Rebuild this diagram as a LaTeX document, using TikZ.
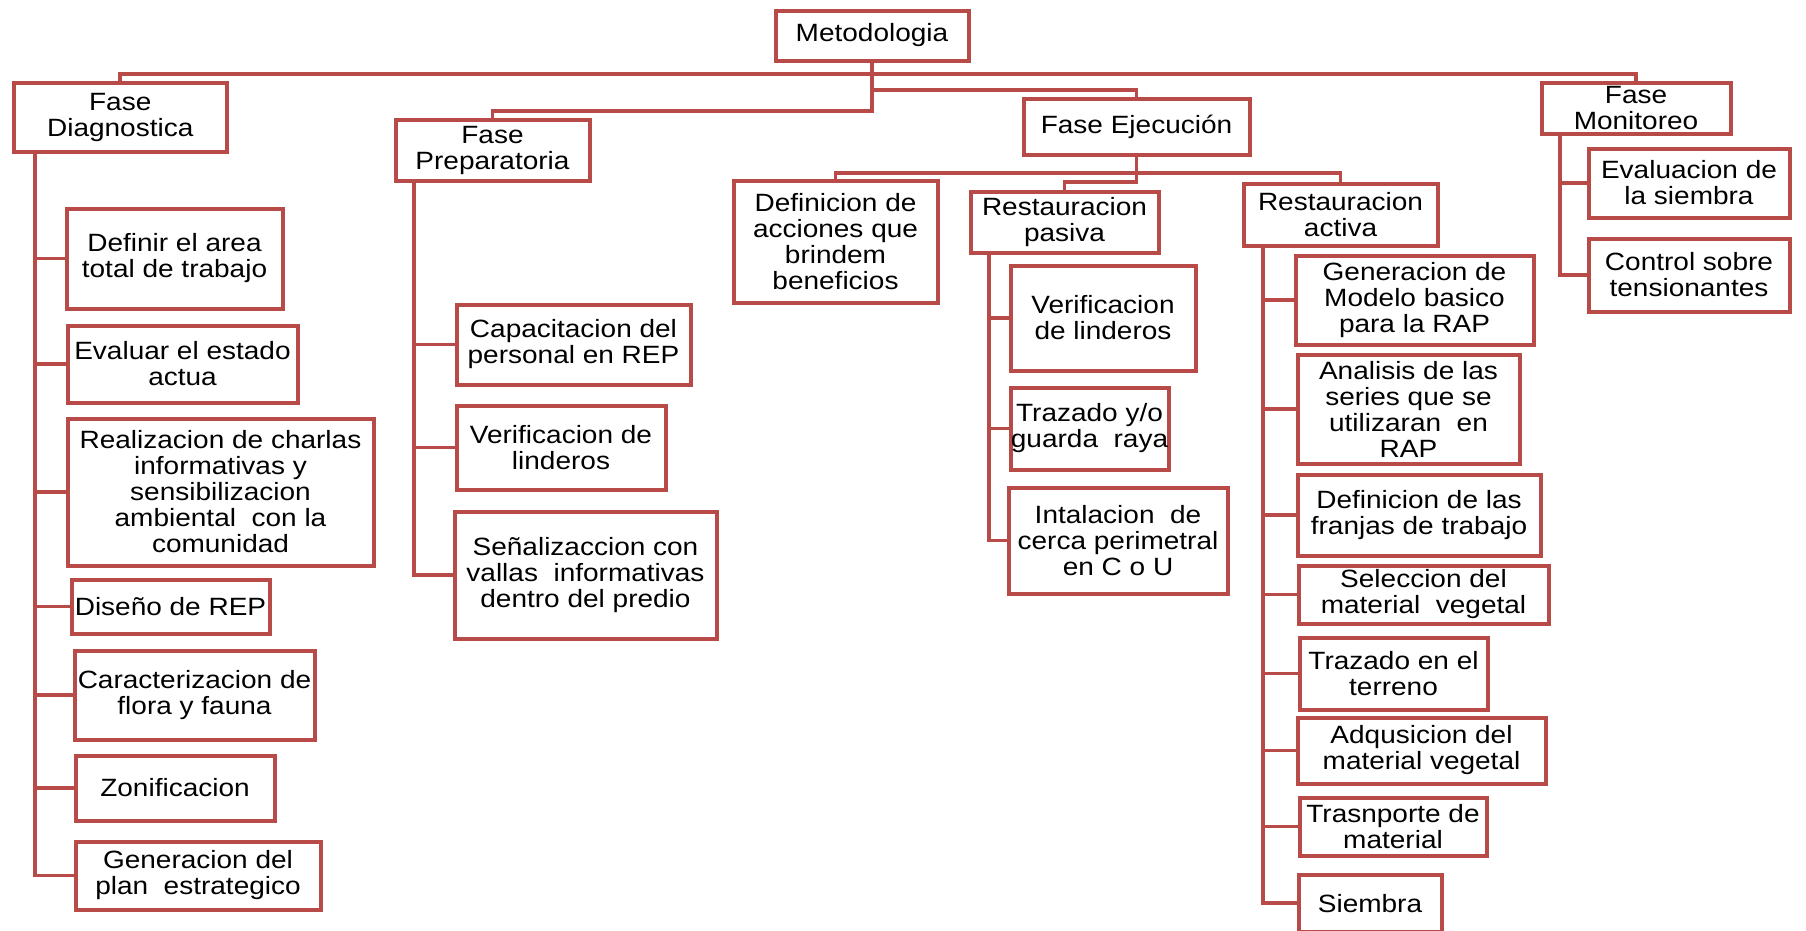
\documentclass[tikz,border=0pt]{standalone}
\usepackage{fontspec}
\setmainfont[FakeStretch=1.12]{Liberation Sans}
\usetikzlibrary{calc}
\definecolor{rim}{RGB}{184,74,72}
% box from its corners (x1,y1) to (x2,y2): name, x1, y1, x2, y2, text
\newcommand\mkbox[6]{\node[box, minimum width={#4-#2}, minimum height={#5-#3}] (#1) at ({(#2+#4)/2},{(#3+#5)/2}) {#6};}
\begin{document}
\begin{tikzpicture}[x=1pt, y=-1pt,
  box/.style={draw=rim, line width=4pt, fill=white, inner sep=0pt, outer sep=0pt,
    align=center, text=black, font=\fontsize{25}{26}\selectfont},
  conn/.style={draw=rim, line width=3.8pt}]
\fill[white] (0,0) rectangle (1806,930);
\useasboundingbox (0,0) rectangle (1806,930);

% top level
\mkbox{met}{775.5}{10.5}{968.5}{60.5}{Metodologia}
\mkbox{diag}{14}{82.5}{226.5}{151.5}{Fase\\Diagnostica}
\mkbox{prep}{395.5}{119.5}{589.5}{180.5}{Fase\\Preparatoria}
\mkbox{ejec}{1023.5}{98.5}{1249.5}{154.5}{Fase Ejecución}
\mkbox{moni}{1541.5}{82.5}{1730.5}{133.5}{Fase\\Monitoreo}

% Fase Diagnostica
\mkbox{d1}{66.5}{208.5}{282.5}{308.5}{Definir el area\\total de trabajo}
\mkbox{d2}{67.5}{325.5}{297.5}{402.5}{Evaluar el estado\\actua}
\mkbox{d3}{67.5}{418.5}{373.5}{565.5}{Realizacion de charlas\\informativas y\\sensibilizacion\\ambiental\ \ con la\\comunidad}
\mkbox{d4}{71.5}{579.5}{269.5}{633.5}{Diseño de REP}
\mkbox{d5}{74.5}{650.5}{314.5}{739.5}{Caracterizacion de\\flora y fauna}
\mkbox{d6}{75.5}{755.5}{274.5}{820.5}{Zonificacion}
\mkbox{d7}{75.5}{841.5}{320.5}{909.5}{Generacion del\\plan\ \ estrategico}

% Fase Preparatoria
\mkbox{p1}{456.5}{304.5}{690.5}{384.5}{Capacitacion del\\personal en REP}
\mkbox{p2}{456.5}{405.5}{665.5}{489.5}{Verificacion de\\linderos}
\mkbox{p3}{454.5}{511.5}{716.5}{638.5}{Señalizaccion con\\vallas\ \ informativas\\dentro del predio}

% Fase Ejecucion
\mkbox{e1}{733.5}{180.5}{937.5}{302.5}{Definicion de\\acciones que\\brindem\\beneficios}
\mkbox{e2}{970.5}{191.5}{1158.5}{252.5}{Restauracion\\pasiva}
\mkbox{e3}{1243.5}{183.5}{1437.5}{245.5}{Restauracion\\activa}

% Restauracion pasiva
\mkbox{s1}{1010.5}{265.5}{1195.5}{370.5}{Verificacion\\de linderos}
\mkbox{s2}{1010.5}{387.5}{1168.5}{469.5}{Trazado y/o\\guarda\ \ raya}
\mkbox{s3}{1008.5}{487.5}{1227.5}{593.5}{Intalacion\ \ de\\cerca perimetral\\en C o U}

% Restauracion activa
\mkbox{a1}{1295.5}{255.5}{1533.5}{344.5}{Generacion de\\Modelo basico\\para la RAP}
\mkbox{a2}{1297.5}{354.5}{1519.5}{463.5}{Analisis de las\\series que se\\utilizaran\ \ en\\RAP}
\mkbox{a3}{1297.5}{474.5}{1540.5}{555.5}{Definicion de las\\franjas de trabajo}
\mkbox{a4}{1298.5}{565.5}{1548.5}{623.5}{Seleccion del\\material\ \ vegetal}
\mkbox{a5}{1299.5}{637.5}{1487.5}{709.5}{Trazado en el\\terreno}
\mkbox{a6}{1297.5}{717.5}{1545.5}{783.5}{Adqusicion del\\material vegetal}
\mkbox{a7}{1299.5}{797.5}{1486.5}{855.5}{Trasnporte de\\material}
\mkbox{a8}{1298.5}{874.5}{1441.5}{932}{Siembra}

% Fase Monitoreo
\mkbox{m1}{1588.5}{148.5}{1789.5}{217.5}{Evaluacion de\\la siembra}
\mkbox{m2}{1588.5}{238.5}{1789.5}{311.5}{Control sobre\\tensionantes}

% connectors from the root
\draw[conn] (met.south) -- ++(0,13.5) -| (diag.north);
\draw[conn] (met.south) -- ++(0,13.5) -| (moni.north);
\draw[conn] (met.south) -- ++(0,29.5) -| (ejec.north);
\draw[conn] (met.south) -- ++(0,50.5) -| (prep.north);

% connectors below Fase Ejecucion
\draw[conn] (ejec.south) -- ++(0,18.5) -| (e1.north);
\draw[conn] (ejec.south) -- ++(0,18.5) -| (e3.north);
\draw[conn] (ejec.south) -- ++(0,27.5) -| (e2.north);

% trunks with side branches
\foreach \c in {d1,d2,d3,d4,d5,d6,d7}
  \draw[conn] ($(diag.south west)+(21,0)$) |- (\c.west);
\foreach \c in {p1,p2,p3}
  \draw[conn] ($(prep.south west)+(18.5,0)$) |- (\c.west);
\foreach \c in {s1,s2,s3}
  \draw[conn] ($(e2.south west)+(18.5,0)$) |- (\c.west);
\foreach \c in {a1,a2,a3,a4,a5,a6,a7,a8}
  \draw[conn] ($(e3.south west)+(19.5,0)$) |- (\c.west);
\foreach \c in {m1,m2}
  \draw[conn] ($(moni.south west)+(18.5,0)$) |- (\c.west);
\end{tikzpicture}
\end{document}
